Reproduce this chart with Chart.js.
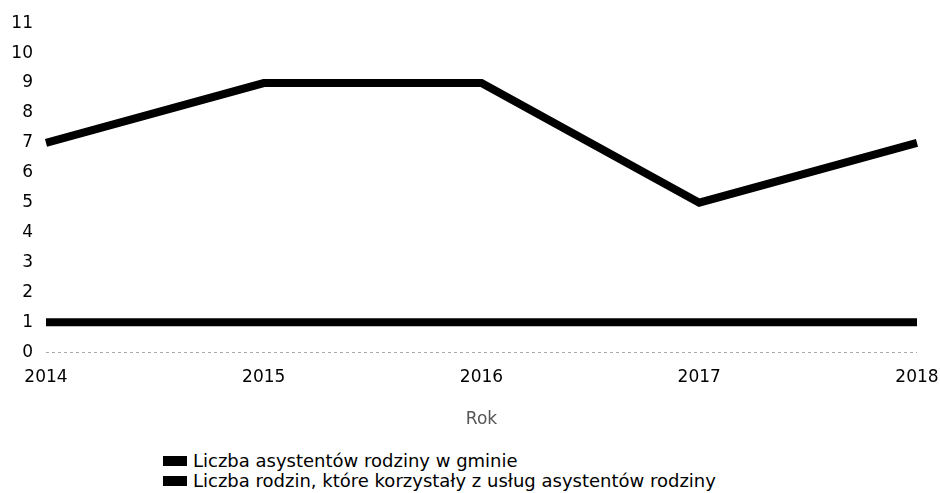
<!DOCTYPE html>
<html><head><meta charset="utf-8">
<script src="https://cdn.jsdelivr.net/npm/chart.js@4"></script>
<style>
html,body{margin:0;padding:0;background:#fff;}
#wrap{position:relative;width:940px;height:440px;}
#legend{position:absolute;left:163px;top:451px;font-family:"DejaVu Sans",Verdana,sans-serif;font-size:18px;color:#000;line-height:20px;}
#legend .it{display:flex;align-items:center;white-space:nowrap;height:20px;}
#legend .bx{display:inline-block;width:24px;height:10px;background:#000;margin-right:6px;}
</style></head>
<body>
<div id="wrap"><canvas id="c" width="940" height="440"></canvas></div>
<div id="legend"></div>
<script>
const categories = ["2014","2015","2016","2017","2018"];
const seriesNames = ["Liczba asystentów rodziny w gminie","Liczba rodzin, które korzystały z usług asystentów rodziny"];
const assistants = [1,1,1,1,1];
const families = [7,9,9,5,7];
const yMin = 0, yMax = 11, yStep = 1;
const xTitle = "Rok";

const font = "'DejaVu Sans', Verdana, sans-serif";
const chart = new Chart(document.getElementById('c'), {
  type: 'line',
  data: {
    labels: categories,
    datasets: [
      {label: seriesNames[0], data: assistants, borderColor:'#000', backgroundColor:'#000', borderWidth:8, pointRadius:0, tension:0, borderCapStyle:'butt', borderJoinStyle:'miter'},
      {label: seriesNames[1], data: families, borderColor:'#000', backgroundColor:'#000', borderWidth:8, pointRadius:0, tension:0, borderCapStyle:'butt', borderJoinStyle:'miter'}
    ]
  },
  options: {
    responsive:false, animation:false,
    layout:{padding:{top:8,right:0,left:11,bottom:0}},
    plugins:{legend:{display:false}, tooltip:{enabled:false}},
    scales:{
      x:{offset:false,
        grid:{display:false,drawTicks:false},
        border:{display:false},
        ticks:{color:'#000',font:{family:font,size:17},padding:15,maxRotation:0},
        title:{display:true,text:xTitle,color:'#555',font:{family:font,size:17},padding:{top:7,bottom:10}},
        afterFit(s){ s.paddingLeft=0; s.paddingRight=23; }
      },
      y:{min:yMin,max:yMax,
        border:{display:false,dash:[3,3]},
        grid:{drawTicks:false,color:(c)=>c.tick && c.tick.value===0?'#aaa':'rgba(0,0,0,0)',lineWidth:1},
        ticks:{stepSize:yStep,color:'#000',font:{family:font,size:17},padding:13},
        afterFit(s){ s.width=35; }
      }
    }
  }
});
const lg=document.getElementById('legend');
chart.data.datasets.forEach(d=>{
  const it=document.createElement('div');it.className='it';
  const b=document.createElement('span');b.className='bx';b.style.background=d.borderColor;
  const t=document.createElement('span');t.textContent=d.label;
  it.appendChild(b);it.appendChild(t);lg.appendChild(it);
});
</script>
</body></html>
